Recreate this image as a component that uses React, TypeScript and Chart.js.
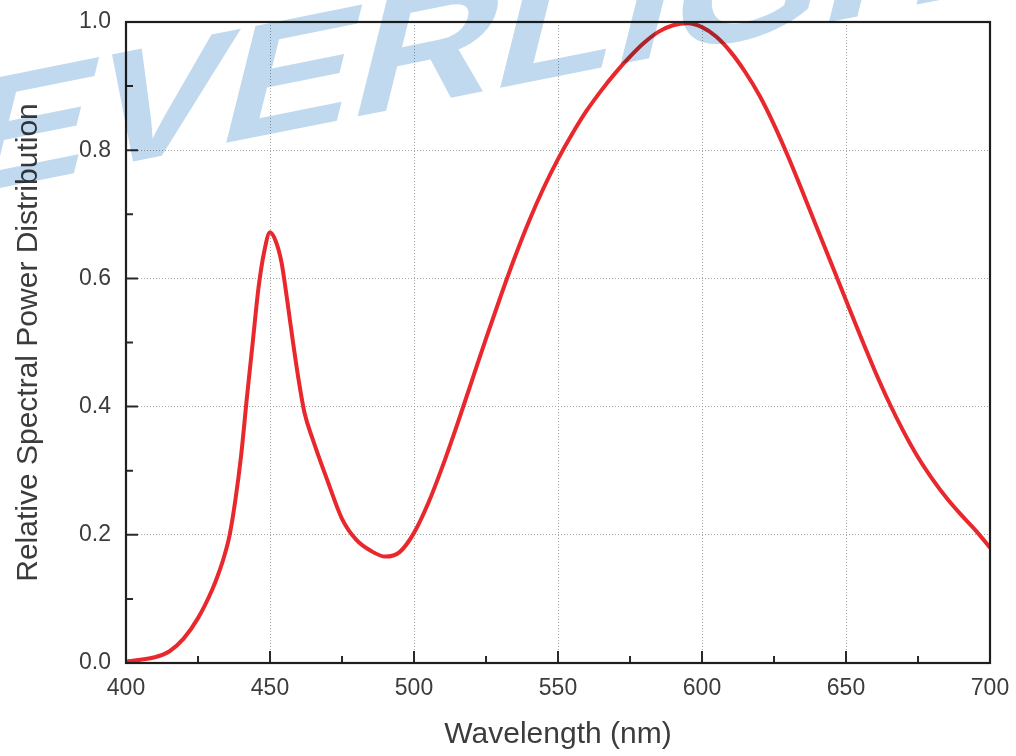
import React, { useEffect, useRef } from "react";
import { Chart, registerables } from "chart.js";

Chart.register(...registerables);

// Wavelength (nm)
const wavelengths = [
  400, 405, 410, 415, 420, 425, 430, 432, 434, 436, 438, 440, 442, 444, 446, 448, 450, 452, 454, 456, 458,
  460, 462, 465, 470, 475, 480, 485, 490, 495, 500, 505, 510, 515, 520, 525, 530, 535, 540, 545, 550, 555,
  560, 565, 570, 575, 580, 585, 590, 595, 600, 605, 610, 615, 620, 625, 630, 635, 640, 645, 650, 655, 660,
  665, 670, 675, 680, 685, 690, 695, 700,
];

// Relative spectral power
const spd = [
  0.002, 0.005, 0.009, 0.018, 0.038, 0.07, 0.115, 0.138, 0.165, 0.2, 0.255, 0.325, 0.415, 0.5, 0.585, 0.642,
  0.672, 0.658, 0.625, 0.565, 0.5, 0.44, 0.39, 0.347, 0.284, 0.225, 0.192, 0.175, 0.166, 0.173, 0.203, 0.25,
  0.308, 0.372, 0.439, 0.506, 0.571, 0.633, 0.69, 0.741, 0.786, 0.826, 0.862, 0.893, 0.921, 0.946, 0.968,
  0.985, 0.995, 0.998, 0.992, 0.977, 0.953, 0.922, 0.885, 0.84, 0.789, 0.734, 0.678, 0.622, 0.566, 0.51,
  0.456, 0.406, 0.361, 0.321, 0.287, 0.257, 0.231, 0.207, 0.18,
];

const xMajorTicks = [400, 450, 500, 550, 600, 650, 700];
const xMinorTicks = [425, 475, 525, 575, 625, 675];
const yMajorTicks = [0, 0.2, 0.4, 0.6, 0.8, 1.0];
const yMinorTicks = [0.1, 0.3, 0.5, 0.7, 0.9];

const xTitle = "Wavelength (nm)";
const yTitle = "Relative Spectral Power Distribution";
const watermark = "EVERLIGHT";

const FONT = "'Liberation Sans', Arial, Helvetica, sans-serif";
const TEXT_COLOR = "#3c3c3c";

const framePlugin = {
  id: "frameAndTicks",
  afterDatasetsDraw(chart: any) {
    const { ctx, chartArea } = chart;
    const xs = chart.scales.x;
    const ys = chart.scales.y;
    ctx.save();
    ctx.strokeStyle = "#2a2a2a";
    ctx.lineWidth = 2;
    ctx.beginPath();
    for (const v of xMajorTicks) {
      const px = xs.getPixelForValue(v);
      ctx.moveTo(px, chartArea.bottom);
      ctx.lineTo(px, chartArea.bottom - 12);
    }
    for (const v of xMinorTicks) {
      const px = xs.getPixelForValue(v);
      ctx.moveTo(px, chartArea.bottom);
      ctx.lineTo(px, chartArea.bottom - 7);
    }
    for (const v of yMajorTicks) {
      const py = ys.getPixelForValue(v);
      ctx.moveTo(chartArea.left, py);
      ctx.lineTo(chartArea.left + 12, py);
    }
    for (const v of yMinorTicks) {
      const py = ys.getPixelForValue(v);
      ctx.moveTo(chartArea.left, py);
      ctx.lineTo(chartArea.left + 7, py);
    }
    ctx.stroke();
    ctx.strokeStyle = "#1e1e1e";
    ctx.lineWidth = 2.2;
    ctx.strokeRect(chartArea.left, chartArea.top, chartArea.right - chartArea.left, chartArea.bottom - chartArea.top);
    ctx.restore();
  },
};

const watermarkPlugin = {
  id: "watermark",
  afterDraw(chart: any) {
    const { ctx } = chart;
    ctx.save();
    ctx.globalCompositeOperation = "multiply";
    ctx.fillStyle = "rgb(192, 217, 238)";
    ctx.font = `bold 170px ${FONT}`;
    ctx.textBaseline = "alphabetic";
    ctx.textAlign = "left";
    ctx.setTransform(1.16, -0.232, -0.25, 1, -50, 198);
    ctx.fillText(watermark, 0, 0);
    ctx.restore();
  },
};

export default function App() {
  const canvasRef = useRef<HTMLCanvasElement | null>(null);

  useEffect(() => {
    if (!canvasRef.current) return;
    const points = wavelengths.map((w, i) => ({ x: w, y: spd[i] }));
    const chart = new Chart(canvasRef.current, {
      type: "line",
      data: {
        datasets: [
          {
            data: points,
            borderColor: "rgb(232, 40, 44)",
            borderWidth: 4,
            pointRadius: 0,
            cubicInterpolationMode: "monotone",
            fill: false,
          },
        ],
      },
      options: {
        animation: false,
        responsive: true,
        maintainAspectRatio: false,
        devicePixelRatio: 1,
        layout: { padding: { top: 22, right: 26, left: 0, bottom: 0 } },
        plugins: { legend: { display: false }, tooltip: { enabled: false } },
        scales: {
          x: {
            type: "linear",
            min: 400,
            max: 700,
            afterBuildTicks: (scale: any) => {
              scale.ticks = xMajorTicks.map((v) => ({ value: v }));
            },
            afterFit: (scale: any) => {
              scale.height = 93;
              scale.paddingLeft = 0;
              scale.paddingRight = 0;
            },
            ticks: {
              padding: 12,
              color: TEXT_COLOR,
              font: { family: FONT, size: 23 },
              callback: (v: any) => String(v),
            },
            grid: {
              drawTicks: false,
              tickLength: 0,
              color: "rgba(150,150,150,0.85)",
              lineWidth: 1,
            },
            border: { display: false, dash: [1, 2] },
            title: {
              display: true,
              text: xTitle,
              color: TEXT_COLOR,
              font: { family: FONT, size: 30 },
              padding: { top: 0, bottom: 3 },
            },
          },
          y: {
            type: "linear",
            min: 0,
            max: 1,
            afterBuildTicks: (scale: any) => {
              scale.ticks = yMajorTicks.map((v) => ({ value: v }));
            },
            afterFit: (scale: any) => {
              scale.width = 126;
              scale.paddingTop = 0;
              scale.paddingBottom = 0;
            },
            ticks: {
              padding: 15,
              color: TEXT_COLOR,
              font: { family: FONT, size: 23 },
              callback: (v: any) => Number(v).toFixed(1),
            },
            grid: {
              drawTicks: false,
              tickLength: 0,
              color: "rgba(150,150,150,0.85)",
              lineWidth: 1,
            },
            border: { display: false, dash: [1, 2] },
            title: {
              display: true,
              text: yTitle,
              color: TEXT_COLOR,
              font: { family: FONT, size: 30 },
              padding: { top: 11, bottom: 0 },
            },
          },
        },
      },
      plugins: [framePlugin, watermarkPlugin],
    } as any);
    return () => chart.destroy();
  }, []);

  return (
    <div style={{ position: "fixed", left: 0, top: 0, width: 1016, height: 756, background: "#fff" }}>
      <canvas ref={canvasRef} />
    </div>
  );
}
